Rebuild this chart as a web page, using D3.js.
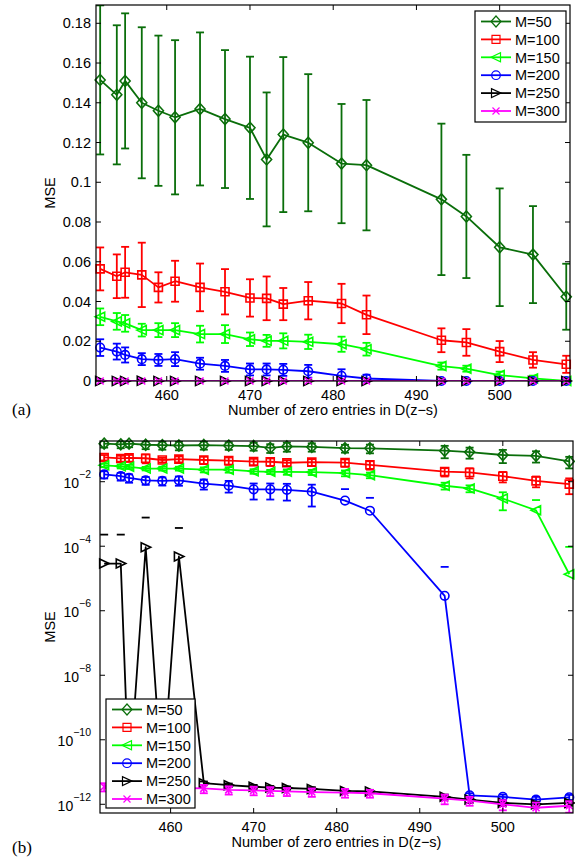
<!DOCTYPE html>
<html><head><meta charset="utf-8">
<script src="https://cdn.jsdelivr.net/npm/d3@7"></script>
<style>
body{margin:0;background:#fff}
text{font-family:"Liberation Sans",Arial,Helvetica,sans-serif;fill:#000}
</style>
</head><body>
<svg id="c" width="575" height="861"></svg>
<script>
// ---------- data ----------
const xVals = [452,454,455,457,459,461,464,467,470,472,474,477,481,484,493,496,500,504,508];

const m50    = [0.1515,0.144,0.151,0.140,0.136,0.1327,0.1369,0.1318,0.1274,0.1115,0.124,0.1199,0.1094,0.1086,0.0914,0.0828,0.0673,0.0636,0.0424];
const m50Err = [0.0375,0.035,0.034,0.038,0.0378,0.0388,0.0385,0.0347,0.0358,0.0337,0.039,0.0345,0.030,0.0328,0.0381,0.031,0.0296,0.0244,0.0166];

const m100    = [0.0564,0.0527,0.0547,0.0534,0.0471,0.0502,0.0471,0.0449,0.0418,0.0416,0.0387,0.0404,0.039,0.0333,0.0205,0.0194,0.0148,0.0106,0.0084];
const m100Err = [0.0108,0.011,0.0128,0.0162,0.0076,0.0103,0.012,0.0114,0.0094,0.011,0.0081,0.0094,0.0099,0.0097,0.006,0.0067,0.0053,0.0039,0.0043];

const m150    = [0.0323,0.030,0.029,0.0256,0.0256,0.0256,0.0236,0.0236,0.021,0.0202,0.0202,0.0197,0.0185,0.016,0.0075,0.0062,0.003,0.0013,0.0000135];
const m150Err = [0.0042,0.0042,0.0042,0.0032,0.0035,0.0035,0.0042,0.0045,0.0034,0.003,0.0038,0.0036,0.0038,0.0032,0.0018,0.0015,0.0017,0.0014,0.000082];

const m200    = [0.0168,0.0148,0.0131,0.011,0.0106,0.011,0.0087,0.0076,0.0058,0.0058,0.0056,0.0049,0.0026,0.00126,0.0000029,1.9e-12,1.7e-12,1.4e-12,1.65e-12];
const m200Err = [0.0042,0.004,0.0038,0.003,0.003,0.0035,0.003,0.003,0.003,0.003,0.003,0.0032,0.0033,0.0019,0.00002,3e-13,3e-13,3e-13,3e-13];

const m250    = [0.000029,0.000029,4.2e-12,0.000093,4.2e-12,0.000048,4.5e-12,3.9e-12,3.5e-12,3.3e-12,3.2e-12,3.0e-12,2.6e-12,2.5e-12,1.7e-12,1.4e-12,1.1e-12,1.0e-12,1.1e-12];
const m250Err = [0.0002,0.0002,6e-13,0.00068,6e-13,0.00032,6e-13,5e-13,5e-13,4e-13,4e-13,4e-13,3e-13,3e-13,3e-13,3e-13,2e-13,2e-13,2e-13];

const m300    = [3.5e-12,3.4e-12,3.4e-12,3.3e-12,3.3e-12,3.2e-12,3.1e-12,2.8e-12,2.7e-12,2.6e-12,2.5e-12,2.4e-12,2.3e-12,2.2e-12,1.5e-12,1.3e-12,1.0e-12,7.8e-13,9e-13];
const m300Err = [1e-12,1e-12,1e-12,1e-12,1e-12,1e-12,9e-13,8e-13,8e-13,8e-13,7e-13,7e-13,7e-13,6e-13,5e-13,4e-13,3.5e-13,3.5e-13,3.5e-13];

const seriesNames  = ["M=50","M=100","M=150","M=200","M=250","M=300"];
const seriesColors = ["#0a6e0a","#ff0000","#00ff00","#0000ff","#000000","#ff00ff"];
const seriesMarkers= ["diamond","square","triL","circle","triR","x"];
const seriesValues = [m50,m100,m150,m200,m250,m300];
const seriesErrors = [m50Err,m100Err,m150Err,m200Err,m250Err,m300Err];

const xTicks = [460,470,480,490,500];
const yTicksLin = [0,0.02,0.04,0.06,0.08,0.1,0.12,0.14,0.16,0.18];
const yTickLabelsLin = ["0","0.02","0.04","0.06","0.08","0.1","0.12","0.14","0.16","0.18"];
const yTicksLog = [1e-12,1e-10,1e-8,1e-6,1e-4,1e-2];
const yTickExpLog = ["\u221212","\u221210","\u22128","\u22126","\u22124","\u22122"];
const xLabel = "Number of zero entries in D(z\u2212s)";
const yLabel = "MSE";

// ---------- drawing ----------
const svg = d3.select("#c");

function markerPath(t){
  switch(t){
    case "diamond": return "M0,-5.5L5,0L0,5.5L-5,0Z";
    case "square":  return "M-4,-4H4V4H-4Z";
    case "triL":    return "M-5,0L4.5,-4.5L4.5,4.5Z";
    case "circle":  return "M4.3,0A4.3,4.3 0 1,1 -4.3,0A4.3,4.3 0 1,1 4.3,0Z";
    case "triR":    return "M5,0L-4.5,-4.5L-4.5,4.5Z";
    case "x":       return "M-3.5,-3.5L3.5,3.5M-3.5,3.5L3.5,-3.5";
  }
}

function panel(opt){
  const {L,R,T,B,isLog,yDomain,id} = opt;
  const x = d3.scaleLinear().domain([451.5,508.45]).range([L,R]);
  const y = isLog ? d3.scaleLog().domain(yDomain).range([B,T])
                  : d3.scaleLinear().domain(yDomain).range([B,T]);
  const g = svg.append("g");
  g.append("defs").append("clipPath").attr("id",id)
    .append("rect").attr("x",L).attr("y",T).attr("width",R-L).attr("height",B-T);

  g.append("rect").attr("x",L).attr("y",T).attr("width",R-L).attr("height",B-T)
    .attr("fill","#fff").attr("stroke","none");

  const dataG = g.append("g");
  seriesValues.forEach((vals,si)=>{
    const col = seriesColors[si], errs = seriesErrors[si];
    const sg = dataG.append("g");
    const cg = sg.append("g").attr("clip-path",`url(#${id})`);
    const pts = xVals.map((xv,i)=>({x:xv,v:vals[i],e:errs[i]}));
    pts.forEach(p=>{
      const hi = p.v + p.e, lo = p.v - p.e;
      const xp = x(p.x), yh = y(hi);
      const drawLo = !isLog || lo > 0;
      if(drawLo){
        const yl = y(lo);
        cg.append("line").attr("x1",xp).attr("x2",xp).attr("y1",yl).attr("y2",yh)
          .attr("stroke",col).attr("stroke-width",1.8);
        cg.append("line").attr("x1",xp-4).attr("x2",xp+4).attr("y1",yl).attr("y2",yl)
          .attr("stroke",col).attr("stroke-width",1.8);
      }
      cg.append("line").attr("x1",xp-4).attr("x2",xp+4).attr("y1",yh).attr("y2",yh)
        .attr("stroke",col).attr("stroke-width",1.8);
    });
    const line = d3.line().x(p=>x(p.x)).y(p=>y(p.v));
    cg.append("path").attr("d",line(pts)).attr("fill","none")
      .attr("stroke",col).attr("stroke-width",1.8).attr("stroke-linejoin","round");
    sg.selectAll(null).data(pts).enter().append("path")
      .attr("d",markerPath(seriesMarkers[si]))
      .attr("transform",p=>`translate(${x(p.x)},${y(p.v)})`)
      .attr("fill","none").attr("stroke",col).attr("stroke-width",1.6);
  });

  const ax = g.append("g");
  ax.append("rect").attr("x",L).attr("y",T).attr("width",R-L).attr("height",B-T)
    .attr("fill","none").attr("stroke","#000").attr("stroke-width",1.2);
  xTicks.forEach(t=>{
    const xp = x(t);
    ax.append("line").attr("x1",xp).attr("x2",xp).attr("y1",B).attr("y2",B-5).attr("stroke","#000");
    ax.append("line").attr("x1",xp).attr("x2",xp).attr("y1",T).attr("y2",T+5).attr("stroke","#000");
    ax.append("text").attr("x",xp).attr("y",B+18.5).attr("text-anchor","middle")
      .attr("font-size",14.5).text(t);
  });
  const yt = isLog ? yTicksLog : yTicksLin;
  yt.forEach((t,i)=>{
    const yp = y(t);
    ax.append("line").attr("x1",L).attr("x2",L+5).attr("y1",yp).attr("y2",yp).attr("stroke","#000");
    ax.append("line").attr("x1",R).attr("x2",R-5).attr("y1",yp).attr("y2",yp).attr("stroke","#000");
    if(isLog){
      const tx = ax.append("text").attr("x",L-9).attr("y",yp+6.5).attr("text-anchor","end")
        .attr("font-size",14);
      tx.append("tspan").text("10");
      tx.append("tspan").attr("dy",-10).attr("font-size",10.5).text(yTickExpLog[i]);
    } else {
      ax.append("text").attr("x",L-5).attr("y",yp+5).attr("text-anchor","end")
        .attr("font-size",14.5).text(yTickLabelsLin[i]);
    }
  });
  ax.append("text").attr("x",(L+R)/2).attr("y",opt.xLabelY).attr("text-anchor","middle")
    .attr("font-size",14.5).text(xLabel);
  ax.append("text").attr("transform",`translate(55,${(T+B)/2}) rotate(-90)`)
    .attr("text-anchor","middle").attr("font-size",14.5).text(yLabel);

  const lg = g.append("g");
  const {lx,ly,lw,lh} = opt.legend;
  lg.append("rect").attr("x",lx).attr("y",ly).attr("width",lw).attr("height",lh)
    .attr("fill","#fff").attr("stroke","#000").attr("stroke-width",1.2);
  seriesNames.forEach((nm,i)=>{
    const ry = ly + 10.5 + i*17.9;
    lg.append("line").attr("x1",lx+6).attr("x2",lx+36).attr("y1",ry).attr("y2",ry)
      .attr("stroke",seriesColors[i]).attr("stroke-width",1.8);
    lg.append("path").attr("d",markerPath(seriesMarkers[i]))
      .attr("transform",`translate(${lx+21},${ry})`)
      .attr("fill","none").attr("stroke",seriesColors[i]).attr("stroke-width",1.2);
    lg.append("text").attr("x",lx+40).attr("y",ry+5.2).attr("font-size",14.5).text(nm);
  });
  return g;
}

panel({id:"clipA",L:96,R:570,T:5,B:381,isLog:false,yDomain:[0,0.1892],xLabelY:415,
       legend:{lx:475,ly:11,lw:91,lh:111}});
panel({id:"clipB",L:100,R:573,T:441,B:813,isLog:true,yDomain:[Math.pow(10,-12.27),Math.pow(10,-0.738)],xLabelY:847,
       legend:{lx:106,ly:699,lw:89,lh:109}});

svg.append("text").attr("x",12).attr("y",415).attr("font-size",17)
  .style("font-family","'Liberation Serif','Times New Roman',serif").text("(a)");
svg.append("text").attr("x",12).attr("y",853).attr("font-size",17)
  .style("font-family","'Liberation Serif','Times New Roman',serif").text("(b)");
</script>
</body></html>
